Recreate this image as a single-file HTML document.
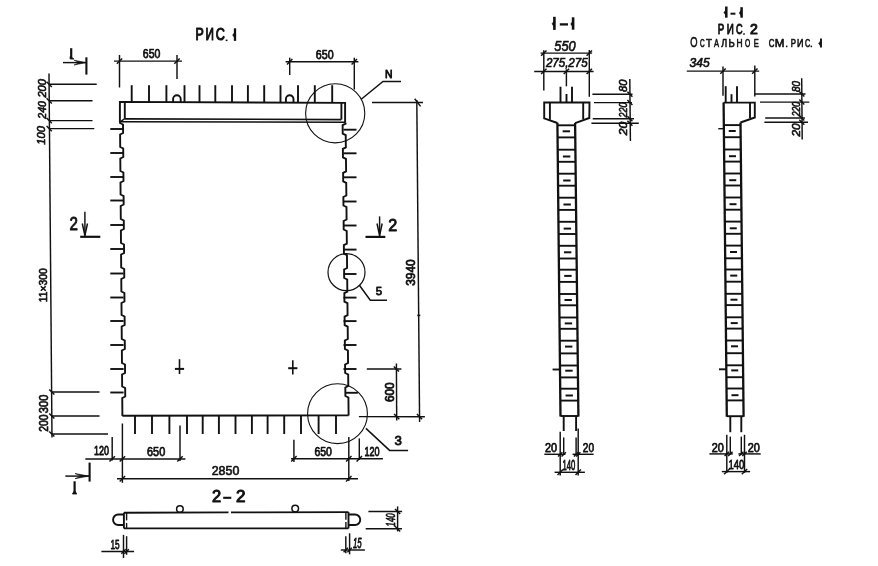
<!DOCTYPE html>
<html><head><meta charset="utf-8"><title>drawing</title>
<style>
html,body{margin:0;padding:0;background:#fff;}
body{width:878px;height:566px;overflow:hidden;}
svg{display:block;will-change:transform;}
svg text{font-family:"Liberation Sans",sans-serif;fill:#111;stroke:#111;stroke-width:0.65px;stroke-linejoin:round;}
</style></head>
<body>
<svg width="878" height="566" viewBox="0 0 878 566">
<rect x="0" y="0" width="878" height="566" fill="#fff"/>
<g stroke="#111" stroke-linecap="butt" fill="none">
<text x="195.53" y="40.35" font-size="16.72" textLength="8.26" lengthAdjust="spacingAndGlyphs" style="stroke-width:1.1px">Р</text>
<text x="205.59" y="40.35" font-size="16.72" textLength="8.42" lengthAdjust="spacingAndGlyphs" style="stroke-width:1.1px">И</text>
<text x="215.82" y="40.19" font-size="16.24" textLength="9.1" lengthAdjust="spacingAndGlyphs" style="stroke-width:1.1px">С</text>
<line x1="226.6" y1="39.6" x2="226.6" y2="41.1" stroke-width="1.8"/>
<line x1="235" y1="28.3" x2="235" y2="40.9" stroke-width="2.3"/>
<path d="M234.5 32.5 L232.6 35.1 L234.5 37.7 Z" fill="#111" stroke-width="0.5"/>
<line x1="71.2" y1="48.2" x2="71.2" y2="58.2" stroke-width="2.2"/>
<path d="M70.1 56.5 L74 59 L70.1 59 Z" fill="#111" stroke-width="0.8"/>
<line x1="63" y1="62.6" x2="86" y2="62.6" stroke-width="1.45"/>
<path d="M74 65 L86 62.6 L74 60.2 L79.4 62.6 Z" fill="#111" stroke-width="0.6"/>
<line x1="86.4" y1="57.3" x2="86.4" y2="74.6" stroke-width="2.1"/>
<line x1="65.3" y1="476.1" x2="89" y2="476.1" stroke-width="1.45"/>
<path d="M75 478.7 L89 476.1 L75 473.5 L81.3 476.1 Z" fill="#111" stroke-width="0.6"/>
<line x1="89.6" y1="462.6" x2="89.6" y2="481.6" stroke-width="2.1"/>
<line x1="74.6" y1="481.3" x2="74.6" y2="493.2" stroke-width="2.2"/>
<path d="M72.4 494 L74.6 490.5 L76.8 494 Z" fill="#111" stroke-width="0.8"/>
<line x1="114" y1="61.1" x2="182" y2="61.1" stroke-width="1.45"/>
<line x1="119.5" y1="55" x2="119.5" y2="87.5" stroke-width="1.45"/>
<line x1="177" y1="55" x2="177" y2="79" stroke-width="1.45"/>
<line x1="116.8" y1="63.8" x2="122.2" y2="58.4" stroke-width="1.45"/>
<line x1="174.3" y1="63.8" x2="179.7" y2="58.4" stroke-width="1.45"/>
<text x="142.85" y="57.6" font-size="12.36" textLength="17.48" lengthAdjust="spacingAndGlyphs" style="stroke-width:0.75px">650</text>
<line x1="285.6" y1="61.8" x2="358.4" y2="61.8" stroke-width="1.45"/>
<line x1="289.7" y1="57.7" x2="289.7" y2="75" stroke-width="1.45"/>
<line x1="354.3" y1="57.7" x2="354.3" y2="89.5" stroke-width="1.45"/>
<line x1="287" y1="64.5" x2="292.4" y2="59.1" stroke-width="1.45"/>
<line x1="351.6" y1="64.5" x2="357" y2="59.1" stroke-width="1.45"/>
<text x="315.84" y="59.3" font-size="12.22" textLength="17.79" lengthAdjust="spacingAndGlyphs" style="stroke-width:0.75px">650</text>
<line x1="49" y1="73.6" x2="52" y2="437.5" stroke-width="1.45"/>
<line x1="49" y1="84.3" x2="96.7" y2="84.3" stroke-width="1.45"/>
<line x1="46.6" y1="81.7" x2="51.8" y2="86.9" stroke-width="1.45"/>
<line x1="49" y1="100.8" x2="92.5" y2="100.8" stroke-width="1.45"/>
<line x1="46.6" y1="98.2" x2="51.8" y2="103.4" stroke-width="1.45"/>
<line x1="49" y1="120.6" x2="92.5" y2="120.6" stroke-width="1.45"/>
<line x1="46.6" y1="118" x2="51.8" y2="123.2" stroke-width="1.45"/>
<line x1="49" y1="128.6" x2="94.3" y2="128.6" stroke-width="1.45"/>
<line x1="46.6" y1="126" x2="51.8" y2="131.2" stroke-width="1.45"/>
<line x1="51.6" y1="392" x2="99.5" y2="392" stroke-width="1.45"/>
<line x1="49.2" y1="389.4" x2="54.4" y2="394.6" stroke-width="1.45"/>
<line x1="51.6" y1="416" x2="99.5" y2="416" stroke-width="1.45"/>
<line x1="49.2" y1="413.4" x2="54.4" y2="418.6" stroke-width="1.45"/>
<line x1="51.6" y1="434" x2="108" y2="434" stroke-width="1.45"/>
<line x1="49.2" y1="431.4" x2="54.4" y2="436.6" stroke-width="1.45"/>
<text transform="translate(45.87 0) rotate(-90)" x="-97.61" y="0" font-size="10.66" textLength="18.58" lengthAdjust="spacingAndGlyphs" font-style="italic">200</text>
<text transform="translate(45.87 0) rotate(-90)" x="-118.71" y="0" font-size="10.66" textLength="17.58" lengthAdjust="spacingAndGlyphs" font-style="italic">240</text>
<text transform="translate(45.46 0) rotate(-90)" x="-144.86" y="0" font-size="11.51" textLength="18.73" lengthAdjust="spacingAndGlyphs" font-style="italic">100</text>
<text transform="translate(47.04 0) rotate(-90)" x="-302.13" y="0" font-size="11.02" textLength="33.88" lengthAdjust="spacingAndGlyphs" style="stroke-width:0.7px">11×300</text>
<text transform="translate(47.93 0) rotate(-90)" x="-413.22" y="0" font-size="12.01" textLength="18.65" lengthAdjust="spacingAndGlyphs" style="stroke-width:0.7px">300</text>
<text transform="translate(47.93 0) rotate(-90)" x="-431.77" y="0" font-size="12.01" textLength="17.21" lengthAdjust="spacingAndGlyphs" style="stroke-width:0.7px">200</text>
<path d="M119.9 122 L119.9 101.9 L345.1 102.9 L345.1 122.7" stroke-width="1.9" fill="none"/>
<line x1="124.8" y1="101.9" x2="124.8" y2="118.7" stroke-width="1.9"/>
<line x1="341.4" y1="102.9" x2="341.4" y2="119.6" stroke-width="1.9"/>
<line x1="124.8" y1="118.9" x2="341.4" y2="119.6" stroke-width="1.6"/>
<line x1="121" y1="121.8" x2="345.1" y2="122.2" stroke-width="1.6"/>
<line x1="119.9" y1="122" x2="124.8" y2="118.7" stroke-width="1.45"/>
<line x1="131.7" y1="85.2" x2="131.7" y2="102.2" stroke-width="1.9"/>
<line x1="149" y1="85.2" x2="149" y2="102.2" stroke-width="1.9"/>
<line x1="166.4" y1="85.2" x2="166.4" y2="102.2" stroke-width="1.9"/>
<line x1="184.5" y1="85.2" x2="184.5" y2="102.2" stroke-width="1.9"/>
<line x1="199.5" y1="85.2" x2="199.5" y2="102.2" stroke-width="1.9"/>
<line x1="215.3" y1="85.2" x2="215.3" y2="102.2" stroke-width="1.9"/>
<line x1="232" y1="85.2" x2="232" y2="102.2" stroke-width="1.9"/>
<line x1="247.9" y1="85.2" x2="247.9" y2="102.2" stroke-width="1.9"/>
<line x1="264.2" y1="85.2" x2="264.2" y2="102.2" stroke-width="1.9"/>
<line x1="280.5" y1="85.2" x2="280.5" y2="102.2" stroke-width="1.9"/>
<line x1="298" y1="85.2" x2="298" y2="102.2" stroke-width="1.9"/>
<line x1="314.8" y1="85.2" x2="314.8" y2="102.2" stroke-width="1.9"/>
<line x1="332.2" y1="85.2" x2="332.2" y2="102.2" stroke-width="1.9"/>
<path d="M173.1 102.2 L173.1 99" stroke-width="1.9" fill="none"/>
<path d="M173.1 99 A3.8 3.8 0 0 1 180.7 99 L180.7 102.2" stroke-width="1.9" fill="none"/>
<path d="M285.9 102.2 L285.9 99" stroke-width="1.9" fill="none"/>
<path d="M285.9 99 A3.8 3.8 0 0 1 293.5 99 L293.5 102.2" stroke-width="1.9" fill="none"/>
<path d="M120 122 L120.01 123 L123.02 124.5 L123.09 133 L120.1 134.5 L120.2 147 L123.22 148.5 L123.29 157 L120.3 158.5 L120.4 171 L123.41 172.5 L123.48 181 L120.49 182.5 L120.59 194.5 L123.6 196 L123.67 204.5 L120.69 206 L120.79 219 L123.8 220.5 L123.87 229 L120.89 230.5 L120.99 243 L124 244.5 L124.07 253 L121.08 254.5 L121.19 267.5 L124.2 269 L124.27 277.5 L121.28 279 L121.38 291.5 L124.4 293 L124.47 301.5 L121.48 303 L121.58 315 L124.59 316.5 L124.66 325 L121.67 326.5 L121.77 339 L124.78 340.5 L124.85 349 L121.87 350.5 L121.97 363 L124.98 364.5 L125.05 373 L122.06 374.5 L122.16 386.5 L125.17 388 L125.24 396.5 L122.25 398 L122.4 416" stroke-width="1.9" fill="none"/>
<path d="M345.6 122.7 L345.61 123.7 L342.63 125.2 L342.71 133.7 L345.73 135.2 L345.85 147.3 L342.87 148.8 L342.95 157.3 L345.97 158.8 L346.1 171.3 L343.11 172.8 L343.2 181.3 L346.22 182.8 L346.35 195.5 L343.36 197 L343.45 205.5 L346.46 207 L346.59 219.5 L343.61 221 L343.69 229.5 L346.71 231 L346.84 243.6 L343.85 245.1 L343.94 253.6 L346.96 255.1 L347.09 268 L344.1 269.5 L344.19 278 L347.21 279.5 L347.33 291.6 L344.35 293.1 L344.43 301.6 L347.45 303.1 L347.57 315.1 L344.59 316.6 L344.67 325.1 L347.69 326.6 L347.82 339 L344.83 340.5 L344.92 349 L347.93 350.5 L348.06 363 L345.08 364.5 L345.17 373 L348.18 374.5 L348.3 386 L345.31 387.5 L345.4 396 L348.42 397.5 L348.6 415.4" stroke-width="1.9" fill="none"/>
<path d="M122.4 415.8 L348.6 415.4" stroke-width="1.9" fill="none"/>
<line x1="110.3" y1="129" x2="123.6" y2="129" stroke-width="1.9"/>
<line x1="110.3" y1="153" x2="123.6" y2="153" stroke-width="1.9"/>
<line x1="110.3" y1="177" x2="123.6" y2="177" stroke-width="1.9"/>
<line x1="110.3" y1="200.5" x2="123.6" y2="200.5" stroke-width="1.9"/>
<line x1="110.3" y1="225" x2="123.6" y2="225" stroke-width="1.9"/>
<line x1="110.3" y1="249" x2="123.6" y2="249" stroke-width="1.9"/>
<line x1="110.3" y1="273.5" x2="123.6" y2="273.5" stroke-width="1.9"/>
<line x1="110.3" y1="297.5" x2="123.6" y2="297.5" stroke-width="1.9"/>
<line x1="110.3" y1="321" x2="123.6" y2="321" stroke-width="1.9"/>
<line x1="110.3" y1="345" x2="123.6" y2="345" stroke-width="1.9"/>
<line x1="110.3" y1="369" x2="123.6" y2="369" stroke-width="1.9"/>
<line x1="110.3" y1="392.5" x2="123.6" y2="392.5" stroke-width="1.9"/>
<line x1="343.5" y1="129.7" x2="356.5" y2="129.7" stroke-width="1.9"/>
<line x1="343.5" y1="153.3" x2="356.5" y2="153.3" stroke-width="1.9"/>
<line x1="343.5" y1="177.3" x2="356.5" y2="177.3" stroke-width="1.9"/>
<line x1="343.5" y1="201.5" x2="356.5" y2="201.5" stroke-width="1.9"/>
<line x1="343.5" y1="225.5" x2="356.5" y2="225.5" stroke-width="1.9"/>
<line x1="343.5" y1="249.6" x2="356.5" y2="249.6" stroke-width="1.9"/>
<line x1="343.5" y1="274" x2="356.5" y2="274" stroke-width="1.9"/>
<line x1="343.5" y1="297.6" x2="356.5" y2="297.6" stroke-width="1.9"/>
<line x1="343.5" y1="321.1" x2="356.5" y2="321.1" stroke-width="1.9"/>
<line x1="343.5" y1="345" x2="356.5" y2="345" stroke-width="1.9"/>
<line x1="343.5" y1="369" x2="356.5" y2="369" stroke-width="1.9"/>
<line x1="345.5" y1="392.8" x2="357.9" y2="392.8" stroke-width="1.9"/>
<line x1="135" y1="416" x2="135" y2="434" stroke-width="1.9"/>
<line x1="152" y1="416" x2="152" y2="434" stroke-width="1.9"/>
<line x1="169.4" y1="416" x2="169.4" y2="434" stroke-width="1.9"/>
<line x1="187" y1="416" x2="187" y2="434" stroke-width="1.9"/>
<line x1="202.7" y1="416" x2="202.7" y2="434" stroke-width="1.9"/>
<line x1="218.9" y1="416" x2="218.9" y2="434" stroke-width="1.9"/>
<line x1="235.5" y1="416" x2="235.5" y2="434" stroke-width="1.9"/>
<line x1="251.9" y1="416" x2="251.9" y2="434" stroke-width="1.9"/>
<line x1="267.6" y1="416" x2="267.6" y2="434" stroke-width="1.9"/>
<line x1="284.2" y1="416" x2="284.2" y2="434" stroke-width="1.9"/>
<line x1="301" y1="416" x2="301" y2="434" stroke-width="1.9"/>
<line x1="318.6" y1="416" x2="318.6" y2="434" stroke-width="1.9"/>
<line x1="336" y1="416" x2="336" y2="434" stroke-width="1.9"/>
<line x1="174.9" y1="368.9" x2="184.1" y2="368.9" stroke-width="2"/>
<line x1="179.5" y1="359.2" x2="179.5" y2="374" stroke-width="1.6"/>
<line x1="288.2" y1="368.2" x2="297.4" y2="368.2" stroke-width="2"/>
<line x1="292.8" y1="360.3" x2="292.8" y2="374.6" stroke-width="1.6"/>
<circle cx="335.2" cy="113.3" r="29.6" stroke-width="1.1" fill="none"/>
<path d="M361.2 99.2 L383 81.5 L401 81.5" stroke-width="1.45" fill="none"/>
<text x="384.9" y="77.85" font-size="11.48" textLength="7.49" lengthAdjust="spacingAndGlyphs" style="stroke-width:0.9px">N</text>
<circle cx="346.5" cy="272.2" r="18.5" stroke-width="1.2" fill="none"/>
<path d="M359.4 285.3 L370.3 300.3 L387 300.3" stroke-width="1.45" fill="none"/>
<text x="375.84" y="295.38" font-size="11.75" textLength="6.44" lengthAdjust="spacingAndGlyphs" style="stroke-width:0.8px">5</text>
<circle cx="337.5" cy="413.7" r="29.9" stroke-width="1.1" fill="none"/>
<path d="M365.9 428.4 L389.6 450.4 L408.1 450.4" stroke-width="1.45" fill="none"/>
<text x="394.4" y="444.87" font-size="13.28" textLength="7.38" lengthAdjust="spacingAndGlyphs" style="stroke-width:0.8px">3</text>
<line x1="372" y1="102.4" x2="423" y2="102.4" stroke-width="1.45"/>
<line x1="416.8" y1="100" x2="419.6" y2="422" stroke-width="1.45"/>
<line x1="414.7" y1="98.7" x2="420.6" y2="106.4" stroke-width="1.45"/>
<line x1="416.9" y1="414" x2="422.1" y2="419.2" stroke-width="1.45"/>
<line x1="417.3" y1="315.4" x2="420.3" y2="315.4" stroke-width="1.6"/>
<text transform="translate(414.78 0) rotate(-90)" x="-285.8" y="0" font-size="12.43" textLength="26.41" lengthAdjust="spacingAndGlyphs" style="stroke-width:0.8px">3940</text>
<line x1="366.8" y1="369" x2="401.4" y2="369" stroke-width="1.45"/>
<line x1="358.9" y1="416.6" x2="424.9" y2="416.8" stroke-width="1.45"/>
<line x1="396.4" y1="363.5" x2="396.7" y2="420.4" stroke-width="1.45"/>
<line x1="393.8" y1="366.4" x2="399" y2="371.6" stroke-width="1.45"/>
<line x1="394.1" y1="414" x2="399.3" y2="419.2" stroke-width="1.45"/>
<text transform="translate(393.88 0) rotate(-90)" x="-402.09" y="0" font-size="12.01" textLength="19.75" lengthAdjust="spacingAndGlyphs" style="stroke-width:0.8px">600</text>
<text x="69.59" y="229.95" font-size="18.91" textLength="8.42" lengthAdjust="spacingAndGlyphs" style="stroke-width:0.9px">2</text>
<line x1="84.9" y1="211.7" x2="84.9" y2="236" stroke-width="1.45"/>
<path d="M82.3 223.5 L84.9 235.5 L87.5 223.5" stroke-width="1.45" fill="none"/>
<line x1="80.2" y1="236.8" x2="100.3" y2="236.8" stroke-width="2.2"/>
<text x="388.14" y="230.75" font-size="17.19" textLength="9.03" lengthAdjust="spacingAndGlyphs" style="stroke-width:0.9px">2</text>
<line x1="379.6" y1="216.4" x2="379.6" y2="236" stroke-width="1.45"/>
<path d="M377 223.5 L379.6 235.5 L382.2 223.5" stroke-width="1.45" fill="none"/>
<line x1="365.5" y1="236.9" x2="385.3" y2="236.9" stroke-width="2.2"/>
<line x1="85.3" y1="458.9" x2="185.4" y2="458.9" stroke-width="1.45"/>
<line x1="112.2" y1="437" x2="112.2" y2="460.6" stroke-width="1.45"/>
<line x1="122.4" y1="423.5" x2="122.4" y2="482.8" stroke-width="1.45"/>
<line x1="180" y1="425.5" x2="180" y2="461" stroke-width="1.45"/>
<line x1="109.5" y1="461.6" x2="114.9" y2="456.2" stroke-width="1.45"/>
<line x1="119.7" y1="461.6" x2="125.1" y2="456.2" stroke-width="1.45"/>
<line x1="177.3" y1="461.6" x2="182.7" y2="456.2" stroke-width="1.45"/>
<text x="93.94" y="455.35" font-size="12.92" textLength="14.98" lengthAdjust="spacingAndGlyphs" style="stroke-width:0.85px">120</text>
<text x="147.03" y="455.8" font-size="12.36" textLength="18.22" lengthAdjust="spacingAndGlyphs" style="stroke-width:0.75px">650</text>
<line x1="291" y1="458.7" x2="382.9" y2="458.7" stroke-width="1.45"/>
<line x1="293.9" y1="439.8" x2="293.9" y2="462" stroke-width="1.45"/>
<line x1="348.8" y1="437" x2="348.8" y2="481" stroke-width="1.45"/>
<line x1="359.3" y1="438.4" x2="359.3" y2="460" stroke-width="1.45"/>
<line x1="291.2" y1="461.4" x2="296.6" y2="456" stroke-width="1.45"/>
<line x1="346.1" y1="461.4" x2="351.5" y2="456" stroke-width="1.45"/>
<line x1="356.6" y1="461.4" x2="362" y2="456" stroke-width="1.45"/>
<text x="314.45" y="456.4" font-size="12.5" textLength="17.48" lengthAdjust="spacingAndGlyphs" style="stroke-width:0.75px">650</text>
<text x="364.43" y="455.84" font-size="13.63" textLength="15.19" lengthAdjust="spacingAndGlyphs" style="stroke-width:0.85px">120</text>
<line x1="117" y1="478.7" x2="358" y2="478.7" stroke-width="1.45"/>
<line x1="119.7" y1="481.4" x2="125.1" y2="476" stroke-width="1.45"/>
<line x1="346.1" y1="481.4" x2="351.5" y2="476" stroke-width="1.45"/>
<text x="211.7" y="474.94" font-size="13.21" textLength="27.65" lengthAdjust="spacingAndGlyphs">2850</text>
<text x="212.08" y="502.2" font-size="16.19" textLength="9.15" lengthAdjust="spacingAndGlyphs" style="stroke-width:1px">2</text>
<line x1="223.2" y1="497.8" x2="231.3" y2="497.8" stroke-width="2.1"/>
<text x="235.94" y="502.2" font-size="16.19" textLength="9.51" lengthAdjust="spacingAndGlyphs" style="stroke-width:1px">2</text>
<line x1="123.9" y1="512.7" x2="228.5" y2="512.4" stroke-width="1.9"/>
<line x1="231" y1="512.4" x2="348.5" y2="512.1" stroke-width="1.9"/>
<line x1="123.9" y1="528.4" x2="348.5" y2="528.4" stroke-width="1.9"/>
<line x1="123.9" y1="512.7" x2="123.9" y2="528.4" stroke-width="1.9"/>
<line x1="348.5" y1="512.1" x2="348.5" y2="528.4" stroke-width="1.9"/>
<line x1="126.6" y1="512.7" x2="126.6" y2="520.4" stroke-width="1.4"/>
<line x1="126.6" y1="522.9" x2="126.6" y2="528.4" stroke-width="1.4"/>
<line x1="345.9" y1="512.1" x2="345.9" y2="519.8" stroke-width="1.4"/>
<line x1="345.9" y1="522" x2="345.9" y2="528.4" stroke-width="1.4"/>
<path d="M123.9 514.5 L118.3 514.5 A5.25 5.25 0 0 0 118.3 525 L123.9 525" stroke-width="1.9" fill="none"/>
<path d="M348.5 514.5 L355 514.5 A5.25 5.25 0 0 1 355 525 L348.5 525" stroke-width="1.9" fill="none"/>
<circle cx="179.9" cy="509" r="3.3" stroke-width="1.5" fill="none"/>
<circle cx="295.2" cy="508.6" r="3.3" stroke-width="1.5" fill="none"/>
<line x1="123.5" y1="534.9" x2="123.5" y2="558" stroke-width="1.45"/>
<line x1="126.6" y1="536.2" x2="126.6" y2="554.8" stroke-width="1.45"/>
<line x1="101.4" y1="551.5" x2="134" y2="551.5" stroke-width="1.45"/>
<line x1="121.3" y1="553.7" x2="125.7" y2="549.3" stroke-width="1.45"/>
<line x1="124.4" y1="553.7" x2="128.8" y2="549.3" stroke-width="1.45"/>
<text x="110.47" y="548.97" font-size="13.32" textLength="9.17" lengthAdjust="spacingAndGlyphs" style="stroke-width:0.8px">15</text>
<line x1="345.8" y1="536.2" x2="345.8" y2="553.2" stroke-width="1.45"/>
<line x1="349.6" y1="533.3" x2="349.6" y2="554.3" stroke-width="1.45"/>
<line x1="340.8" y1="550" x2="364.9" y2="550" stroke-width="1.45"/>
<line x1="343.6" y1="552.2" x2="348" y2="547.8" stroke-width="1.45"/>
<line x1="347.4" y1="552.2" x2="351.8" y2="547.8" stroke-width="1.45"/>
<text x="352.91" y="548.46" font-size="13.75" textLength="8.67" lengthAdjust="spacingAndGlyphs" font-style="italic" style="stroke-width:0.8px">15</text>
<line x1="368.4" y1="511.5" x2="402.1" y2="511.5" stroke-width="1.45"/>
<line x1="365.7" y1="528.8" x2="402" y2="528.8" stroke-width="1.45"/>
<line x1="397.6" y1="506.4" x2="397.6" y2="531.4" stroke-width="1.45"/>
<line x1="395" y1="508.9" x2="400.2" y2="514.1" stroke-width="1.45"/>
<line x1="395" y1="526.2" x2="400.2" y2="531.4" stroke-width="1.45"/>
<text transform="translate(394.72 0) rotate(-90)" x="-526.45" y="0" font-size="12.57" textLength="13.16" lengthAdjust="spacingAndGlyphs" font-style="italic" style="stroke-width:0.7px">140</text>
<line x1="554.4" y1="16.8" x2="554.4" y2="29.9" stroke-width="2.6"/>
<path d="M553.9 21.25 L552 23.85 L553.9 26.45 Z" fill="#111" stroke-width="0.5"/>
<line x1="559.8" y1="24.4" x2="568" y2="24.4" stroke-width="2.3"/>
<line x1="573.1" y1="17.3" x2="573.1" y2="29.7" stroke-width="2.6"/>
<path d="M572.6 21.4 L570.7 24 L572.6 26.6 Z" fill="#111" stroke-width="0.5"/>
<text x="554.34" y="50.53" font-size="14.05" textLength="21.34" lengthAdjust="spacingAndGlyphs" font-style="italic">550</text>
<line x1="540.6" y1="53.1" x2="592.1" y2="53.1" stroke-width="1.45"/>
<text x="545.89" y="67.43" font-size="12.05" textLength="41.74" lengthAdjust="spacingAndGlyphs" font-style="italic">275,275</text>
<line x1="534.2" y1="71.4" x2="593.6" y2="71.4" stroke-width="1.45"/>
<line x1="543.8" y1="50.3" x2="543.8" y2="90.5" stroke-width="1.45"/>
<line x1="589.3" y1="50" x2="589.3" y2="96.8" stroke-width="1.45"/>
<line x1="566.4" y1="69.3" x2="566.4" y2="86.3" stroke-width="1.45"/>
<line x1="541.1" y1="55.8" x2="546.5" y2="50.4" stroke-width="1.45"/>
<line x1="541.1" y1="74.1" x2="546.5" y2="68.7" stroke-width="1.45"/>
<line x1="586.6" y1="55.8" x2="592" y2="50.4" stroke-width="1.45"/>
<line x1="586.6" y1="74.1" x2="592" y2="68.7" stroke-width="1.45"/>
<line x1="563.7" y1="74.1" x2="569.1" y2="68.7" stroke-width="1.45"/>
<path d="M557.4 123 L544.2 118.4 L544.2 102.5 L589.5 102.5 L589.3 118 L575.1 123.1" stroke-width="1.9" fill="none"/>
<line x1="549.9" y1="102.5" x2="549.9" y2="119.7" stroke-width="1.9"/>
<line x1="583.2" y1="102.5" x2="583.2" y2="119.3" stroke-width="1.9"/>
<line x1="560.5" y1="86.7" x2="560.5" y2="102.5" stroke-width="1.9"/>
<line x1="572" y1="86.7" x2="572" y2="102.5" stroke-width="1.9"/>
<line x1="566.5" y1="94" x2="566.5" y2="102.5" stroke-width="1.9"/>
<line x1="557.4" y1="122.8" x2="560.5" y2="416.6" stroke-width="2.3"/>
<line x1="575.1" y1="123" x2="578.4" y2="416.6" stroke-width="2.3"/>
<line x1="557.42" y1="125.3" x2="575.13" y2="125.3" stroke-width="1.9"/>
<line x1="557.55" y1="137.4" x2="575.26" y2="137.4" stroke-width="1.9"/>
<line x1="557.68" y1="149.7" x2="575.4" y2="149.7" stroke-width="1.9"/>
<line x1="557.81" y1="161.8" x2="575.54" y2="161.8" stroke-width="1.9"/>
<line x1="557.94" y1="173.7" x2="575.67" y2="173.7" stroke-width="1.9"/>
<line x1="558.06" y1="185.7" x2="575.81" y2="185.7" stroke-width="1.9"/>
<line x1="558.19" y1="197.7" x2="575.94" y2="197.7" stroke-width="1.9"/>
<line x1="558.32" y1="209.9" x2="576.08" y2="209.9" stroke-width="1.9"/>
<line x1="558.45" y1="221.8" x2="576.21" y2="221.8" stroke-width="1.9"/>
<line x1="558.57" y1="234" x2="576.35" y2="234" stroke-width="1.9"/>
<line x1="558.7" y1="245.8" x2="576.48" y2="245.8" stroke-width="1.9"/>
<line x1="558.83" y1="258.5" x2="576.63" y2="258.5" stroke-width="1.9"/>
<line x1="558.95" y1="269.7" x2="576.75" y2="269.7" stroke-width="1.9"/>
<line x1="559.08" y1="281.9" x2="576.89" y2="281.9" stroke-width="1.9"/>
<line x1="559.21" y1="294" x2="577.03" y2="294" stroke-width="1.9"/>
<line x1="559.33" y1="305.3" x2="577.15" y2="305.3" stroke-width="1.9"/>
<line x1="559.46" y1="317.5" x2="577.29" y2="317.5" stroke-width="1.9"/>
<line x1="559.58" y1="328.8" x2="577.42" y2="328.8" stroke-width="1.9"/>
<line x1="559.7" y1="340.7" x2="577.55" y2="340.7" stroke-width="1.9"/>
<line x1="559.84" y1="353.4" x2="577.69" y2="353.4" stroke-width="1.9"/>
<line x1="559.97" y1="365.5" x2="577.83" y2="365.5" stroke-width="1.9"/>
<line x1="560.09" y1="377.4" x2="577.97" y2="377.4" stroke-width="1.9"/>
<line x1="560.21" y1="388.7" x2="578.09" y2="388.7" stroke-width="1.9"/>
<line x1="560.34" y1="400.6" x2="578.23" y2="400.6" stroke-width="1.9"/>
<line x1="560.5" y1="416" x2="578.4" y2="416" stroke-width="1.9"/>
<line x1="562.64" y1="131.3" x2="570.04" y2="131.3" stroke-width="1.99"/>
<line x1="562.91" y1="156.5" x2="570.31" y2="156.5" stroke-width="1.99"/>
<line x1="563.17" y1="180.5" x2="570.57" y2="180.5" stroke-width="1.99"/>
<line x1="563.44" y1="204.5" x2="570.84" y2="204.5" stroke-width="1.99"/>
<line x1="563.7" y1="228.6" x2="571.1" y2="228.6" stroke-width="1.99"/>
<line x1="563.96" y1="252.3" x2="571.36" y2="252.3" stroke-width="1.99"/>
<line x1="564.22" y1="275.9" x2="571.62" y2="275.9" stroke-width="1.99"/>
<line x1="564.48" y1="300" x2="571.88" y2="300" stroke-width="1.99"/>
<line x1="564.74" y1="323.4" x2="572.14" y2="323.4" stroke-width="1.99"/>
<line x1="564.99" y1="346.6" x2="572.39" y2="346.6" stroke-width="1.99"/>
<line x1="565.25" y1="370.7" x2="572.65" y2="370.7" stroke-width="1.99"/>
<line x1="565.52" y1="395.5" x2="572.92" y2="395.5" stroke-width="1.99"/>
<line x1="552.6" y1="369.5" x2="559.7" y2="369.5" stroke-width="1.9"/>
<line x1="629.8" y1="79" x2="630.4" y2="141" stroke-width="1.45"/>
<line x1="592.4" y1="94.2" x2="632.5" y2="94.2" stroke-width="1.45"/>
<line x1="594" y1="102.6" x2="632" y2="102.6" stroke-width="1.45"/>
<line x1="592.7" y1="118.8" x2="634" y2="118.8" stroke-width="1.45"/>
<line x1="591.4" y1="123.3" x2="638.8" y2="123.3" stroke-width="1.45"/>
<line x1="627.4" y1="91.7" x2="632.4" y2="96.7" stroke-width="1.45"/>
<line x1="627.4" y1="100.1" x2="632.4" y2="105.1" stroke-width="1.45"/>
<line x1="627.4" y1="116.3" x2="632.4" y2="121.3" stroke-width="1.45"/>
<line x1="627.4" y1="120.8" x2="632.4" y2="125.8" stroke-width="1.45"/>
<text transform="translate(627.17 0) rotate(-90)" x="-91.96" y="0" font-size="10.95" textLength="12.33" lengthAdjust="spacingAndGlyphs" font-style="italic">80</text>
<text transform="translate(627.17 0) rotate(-90)" x="-117.42" y="0" font-size="10.95" textLength="14.97" lengthAdjust="spacingAndGlyphs" font-style="italic">220</text>
<text transform="translate(627.17 0) rotate(-90)" x="-135.3" y="0" font-size="10.95" textLength="13.58" lengthAdjust="spacingAndGlyphs" font-style="italic">20</text>
<line x1="563.7" y1="416" x2="563.7" y2="431" stroke-width="1.9"/>
<line x1="576.1" y1="416" x2="576.1" y2="431" stroke-width="1.9"/>
<line x1="560.2" y1="431.8" x2="560.2" y2="475.5" stroke-width="1.45"/>
<line x1="578.2" y1="428.6" x2="578.2" y2="475.5" stroke-width="1.45"/>
<line x1="563.7" y1="437.4" x2="563.7" y2="454.9" stroke-width="1.45"/>
<line x1="576.1" y1="437.4" x2="576.1" y2="454.9" stroke-width="1.45"/>
<line x1="544.3" y1="454.3" x2="565.4" y2="454.3" stroke-width="1.45"/>
<line x1="572.6" y1="454.3" x2="593.6" y2="454.3" stroke-width="1.45"/>
<line x1="558" y1="456.6" x2="562.4" y2="452.2" stroke-width="1.45"/>
<line x1="561.5" y1="456.6" x2="565.9" y2="452.2" stroke-width="1.45"/>
<line x1="573.9" y1="456.6" x2="578.3" y2="452.2" stroke-width="1.45"/>
<line x1="576" y1="456.6" x2="580.4" y2="452.2" stroke-width="1.45"/>
<text x="545.03" y="452" font-size="12.36" textLength="12.11" lengthAdjust="spacingAndGlyphs" style="stroke-width:0.75px">20</text>
<text x="582.77" y="452" font-size="12.36" textLength="11.24" lengthAdjust="spacingAndGlyphs" style="stroke-width:0.75px">20</text>
<line x1="554.6" y1="472.3" x2="584.9" y2="472.3" stroke-width="1.45"/>
<line x1="557.5" y1="475" x2="562.9" y2="469.6" stroke-width="1.45"/>
<line x1="575.5" y1="475" x2="580.9" y2="469.6" stroke-width="1.45"/>
<text x="562.52" y="469.86" font-size="14.12" textLength="12.78" lengthAdjust="spacingAndGlyphs" style="stroke-width:0.8px">140</text>
<line x1="726.3" y1="6.5" x2="726.3" y2="17.7" stroke-width="2.5"/>
<path d="M725.8 10 L723.9 12.6 L725.8 15.2 Z" fill="#111" stroke-width="0.5"/>
<line x1="730.5" y1="13.7" x2="735.4" y2="13.7" stroke-width="2"/>
<line x1="741.6" y1="7.2" x2="741.6" y2="17.7" stroke-width="2.5"/>
<path d="M741.1 10.35 L739.2 12.95 L741.1 15.55 Z" fill="#111" stroke-width="0.5"/>
<text x="717.8" y="34.2" font-size="14.83" textLength="6.51" lengthAdjust="spacingAndGlyphs" style="stroke-width:1px">Р</text>
<text x="726.69" y="34.2" font-size="14.83" textLength="7.12" lengthAdjust="spacingAndGlyphs" style="stroke-width:1px">И</text>
<text x="736.04" y="34.06" font-size="14.41" textLength="6.6" lengthAdjust="spacingAndGlyphs" style="stroke-width:1px">С</text>
<line x1="744" y1="33.2" x2="744" y2="34.7" stroke-width="1.6"/>
<text x="750" y="34.2" font-size="14.61" textLength="7.81" lengthAdjust="spacingAndGlyphs" style="stroke-width:1px">2</text>
<text x="690.16" y="46.56" font-size="14.41" textLength="7.29" lengthAdjust="spacingAndGlyphs" style="stroke-width:0.6px">О</text>
<text x="699.88" y="46.8" font-size="10.31" textLength="4.66" lengthAdjust="spacingAndGlyphs" style="stroke-width:0.6px">С</text>
<text x="705.99" y="46.9" font-size="10.61" textLength="5.94" lengthAdjust="spacingAndGlyphs" style="stroke-width:0.6px">Т</text>
<text x="713.98" y="46.9" font-size="10.61" textLength="5.03" lengthAdjust="spacingAndGlyphs" style="stroke-width:0.6px">А</text>
<text x="721.23" y="46.82" font-size="10.49" textLength="5.9" lengthAdjust="spacingAndGlyphs" style="stroke-width:0.6px">Л</text>
<text x="728.42" y="46.9" font-size="10.61" textLength="6.27" lengthAdjust="spacingAndGlyphs" style="stroke-width:0.6px">Ь</text>
<text x="736.61" y="46.9" font-size="10.61" textLength="6.07" lengthAdjust="spacingAndGlyphs" style="stroke-width:0.6px">Н</text>
<text x="744.88" y="46.8" font-size="10.31" textLength="5.24" lengthAdjust="spacingAndGlyphs" style="stroke-width:0.6px">О</text>
<text x="753.68" y="46.9" font-size="10.61" textLength="5.04" lengthAdjust="spacingAndGlyphs" style="stroke-width:0.6px">Е</text>
<text x="768.71" y="46.8" font-size="10.31" textLength="5.69" lengthAdjust="spacingAndGlyphs" style="stroke-width:0.6px">С</text>
<text x="774.84" y="46.9" font-size="10.61" textLength="9.71" lengthAdjust="spacingAndGlyphs" style="stroke-width:0.6px">М</text>
<text x="790.75" y="46.9" font-size="10.61" textLength="5.26" lengthAdjust="spacingAndGlyphs" style="stroke-width:0.6px">Р</text>
<text x="797.06" y="46.9" font-size="10.61" textLength="6.48" lengthAdjust="spacingAndGlyphs" style="stroke-width:0.6px">И</text>
<text x="804.94" y="46.8" font-size="10.31" textLength="5.23" lengthAdjust="spacingAndGlyphs" style="stroke-width:0.6px">С</text>
<line x1="786.7" y1="45.6" x2="786.7" y2="47.2" stroke-width="1.5"/>
<line x1="811.3" y1="45.6" x2="811.3" y2="47.2" stroke-width="1.5"/>
<line x1="821" y1="38.6" x2="821" y2="47.4" stroke-width="1.9"/>
<path d="M820.5 40.9 L818.6 43.5 L820.5 46.1 Z" fill="#111" stroke-width="0.5"/>
<text x="689.55" y="67.25" font-size="12.22" textLength="20.1" lengthAdjust="spacingAndGlyphs" font-style="italic">345</text>
<line x1="686.8" y1="71.1" x2="759.2" y2="71.1" stroke-width="1.45"/>
<line x1="723" y1="66.6" x2="723" y2="95.8" stroke-width="1.45"/>
<line x1="754.8" y1="65.6" x2="754.8" y2="96.5" stroke-width="1.45"/>
<line x1="720.3" y1="73.8" x2="725.7" y2="68.4" stroke-width="1.45"/>
<line x1="752.1" y1="73.8" x2="757.5" y2="68.4" stroke-width="1.45"/>
<line x1="754.8" y1="93.9" x2="805.5" y2="93.9" stroke-width="1.45"/>
<path d="M723.6 102.6 L754.8 102.6 L754.8 117.5 L740.5 122.5" stroke-width="1.9" fill="none"/>
<line x1="750" y1="102.6" x2="750" y2="118" stroke-width="1.9"/>
<line x1="725.7" y1="86.2" x2="725.7" y2="102.6" stroke-width="1.9"/>
<line x1="737" y1="86.2" x2="737" y2="102.6" stroke-width="1.9"/>
<line x1="731.5" y1="94.2" x2="731.5" y2="102.6" stroke-width="1.9"/>
<line x1="723.6" y1="102.6" x2="726.8" y2="416.8" stroke-width="2.3"/>
<line x1="740.5" y1="122.5" x2="743.6" y2="416.8" stroke-width="2.3"/>
<line x1="723.83" y1="125.1" x2="740.53" y2="125.1" stroke-width="1.9"/>
<line x1="723.96" y1="137.2" x2="740.66" y2="137.2" stroke-width="1.9"/>
<line x1="724.08" y1="149.5" x2="740.79" y2="149.5" stroke-width="1.9"/>
<line x1="724.2" y1="161.6" x2="740.91" y2="161.6" stroke-width="1.9"/>
<line x1="724.33" y1="173.5" x2="741.04" y2="173.5" stroke-width="1.9"/>
<line x1="724.45" y1="185.5" x2="741.17" y2="185.5" stroke-width="1.9"/>
<line x1="724.57" y1="197.5" x2="741.29" y2="197.5" stroke-width="1.9"/>
<line x1="724.69" y1="209.7" x2="741.42" y2="209.7" stroke-width="1.9"/>
<line x1="724.82" y1="221.6" x2="741.55" y2="221.6" stroke-width="1.9"/>
<line x1="724.94" y1="233.8" x2="741.68" y2="233.8" stroke-width="1.9"/>
<line x1="725.06" y1="245.6" x2="741.8" y2="245.6" stroke-width="1.9"/>
<line x1="725.19" y1="258.3" x2="741.94" y2="258.3" stroke-width="1.9"/>
<line x1="725.31" y1="269.5" x2="742.05" y2="269.5" stroke-width="1.9"/>
<line x1="725.43" y1="281.7" x2="742.18" y2="281.7" stroke-width="1.9"/>
<line x1="725.55" y1="293.8" x2="742.31" y2="293.8" stroke-width="1.9"/>
<line x1="725.67" y1="305.1" x2="742.43" y2="305.1" stroke-width="1.9"/>
<line x1="725.79" y1="317.3" x2="742.56" y2="317.3" stroke-width="1.9"/>
<line x1="725.91" y1="328.6" x2="742.68" y2="328.6" stroke-width="1.9"/>
<line x1="726.03" y1="340.5" x2="742.8" y2="340.5" stroke-width="1.9"/>
<line x1="726.16" y1="353.2" x2="742.94" y2="353.2" stroke-width="1.9"/>
<line x1="726.28" y1="365.3" x2="743.06" y2="365.3" stroke-width="1.9"/>
<line x1="726.4" y1="377.2" x2="743.19" y2="377.2" stroke-width="1.9"/>
<line x1="726.52" y1="388.5" x2="743.31" y2="388.5" stroke-width="1.9"/>
<line x1="726.64" y1="400.4" x2="743.44" y2="400.4" stroke-width="1.9"/>
<line x1="726.8" y1="416.2" x2="743.6" y2="416.2" stroke-width="1.9"/>
<line x1="728.74" y1="131" x2="735.74" y2="131" stroke-width="1.99"/>
<line x1="729" y1="156.2" x2="736" y2="156.2" stroke-width="1.99"/>
<line x1="729.25" y1="180.2" x2="736.25" y2="180.2" stroke-width="1.99"/>
<line x1="729.5" y1="204.2" x2="736.5" y2="204.2" stroke-width="1.99"/>
<line x1="729.75" y1="228.3" x2="736.75" y2="228.3" stroke-width="1.99"/>
<line x1="730" y1="252" x2="737" y2="252" stroke-width="1.99"/>
<line x1="730.24" y1="275.6" x2="737.24" y2="275.6" stroke-width="1.99"/>
<line x1="730.49" y1="299.7" x2="737.49" y2="299.7" stroke-width="1.99"/>
<line x1="730.73" y1="323.1" x2="737.73" y2="323.1" stroke-width="1.99"/>
<line x1="730.97" y1="346.3" x2="737.97" y2="346.3" stroke-width="1.99"/>
<line x1="731.22" y1="370.4" x2="738.22" y2="370.4" stroke-width="1.99"/>
<line x1="731.48" y1="395.2" x2="738.48" y2="395.2" stroke-width="1.99"/>
<line x1="718.3" y1="128.7" x2="723.8" y2="128.7" stroke-width="1.45"/>
<line x1="719" y1="369.3" x2="725.9" y2="369.3" stroke-width="1.9"/>
<line x1="801.7" y1="78.3" x2="802.2" y2="139.5" stroke-width="1.45"/>
<line x1="760" y1="102.1" x2="809.3" y2="102.1" stroke-width="1.45"/>
<line x1="765.2" y1="118" x2="804.9" y2="118" stroke-width="1.45"/>
<line x1="764.4" y1="122.3" x2="808" y2="122.3" stroke-width="1.45"/>
<line x1="799.3" y1="91.4" x2="804.3" y2="96.4" stroke-width="1.45"/>
<line x1="799.3" y1="99.6" x2="804.3" y2="104.6" stroke-width="1.45"/>
<line x1="799.3" y1="115.5" x2="804.3" y2="120.5" stroke-width="1.45"/>
<line x1="799.3" y1="119.8" x2="804.3" y2="124.8" stroke-width="1.45"/>
<text transform="translate(799.72 0) rotate(-90)" x="-91.93" y="0" font-size="10.81" textLength="11.09" lengthAdjust="spacingAndGlyphs" font-style="italic">80</text>
<text transform="translate(799.72 0) rotate(-90)" x="-116.22" y="0" font-size="10.81" textLength="14.37" lengthAdjust="spacingAndGlyphs" font-style="italic">220</text>
<text transform="translate(799.72 0) rotate(-90)" x="-136.6" y="0" font-size="10.81" textLength="13.18" lengthAdjust="spacingAndGlyphs" font-style="italic">20</text>
<line x1="730.3" y1="416" x2="730.3" y2="432.2" stroke-width="1.9"/>
<line x1="741.3" y1="416" x2="741.3" y2="432.2" stroke-width="1.9"/>
<line x1="726.8" y1="434.8" x2="726.8" y2="472.8" stroke-width="1.45"/>
<line x1="744.5" y1="434.8" x2="744.5" y2="472.8" stroke-width="1.45"/>
<line x1="730.3" y1="436.6" x2="730.3" y2="454.3" stroke-width="1.45"/>
<line x1="741.3" y1="436.6" x2="741.3" y2="454.3" stroke-width="1.45"/>
<line x1="709.4" y1="453.9" x2="732.8" y2="453.9" stroke-width="1.45"/>
<line x1="738.4" y1="453.9" x2="760.7" y2="453.9" stroke-width="1.45"/>
<line x1="724.6" y1="456.1" x2="729" y2="451.7" stroke-width="1.45"/>
<line x1="728.1" y1="456.1" x2="732.5" y2="451.7" stroke-width="1.45"/>
<line x1="739.1" y1="456.1" x2="743.5" y2="451.7" stroke-width="1.45"/>
<line x1="742.3" y1="456.1" x2="746.7" y2="451.7" stroke-width="1.45"/>
<text x="711.63" y="451.6" font-size="12.36" textLength="12.11" lengthAdjust="spacingAndGlyphs" style="stroke-width:0.75px">20</text>
<text x="747.73" y="451.6" font-size="12.36" textLength="12.11" lengthAdjust="spacingAndGlyphs" style="stroke-width:0.75px">20</text>
<line x1="721.8" y1="471.6" x2="750.1" y2="471.6" stroke-width="1.45"/>
<line x1="724.1" y1="474.3" x2="729.5" y2="468.9" stroke-width="1.45"/>
<line x1="741.8" y1="474.3" x2="747.2" y2="468.9" stroke-width="1.45"/>
<text x="728.48" y="469.07" font-size="12.99" textLength="15.78" lengthAdjust="spacingAndGlyphs" style="stroke-width:0.8px">140</text>
</g>
</svg>
</body></html>
